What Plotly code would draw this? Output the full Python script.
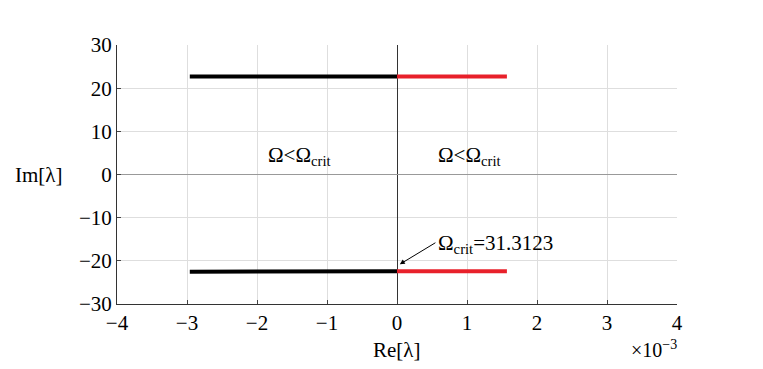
import plotly.graph_objects as go

# Data (Re in units of 1e-3)
upper_black_x = [-2.96, 0.0]
upper_black_y = [22.7, 22.7]
upper_red_x = [0.0, 1.57]
upper_red_y = [22.7, 22.7]
lower_black_x = [-2.96, 0.0]
lower_black_y = [-22.5, -22.4]
lower_red_x = [0.0, 1.57]
lower_red_y = [-22.4, -22.4]

x_ticks = [-4, -3, -2, -1, 0, 1, 2, 3, 4]
y_ticks = [-30, -20, -10, 0, 10, 20, 30]

FONT = "Liberation Serif"
BLACK = "#000000"
RED = "#e8202a"
FS = 21

fig = go.Figure()
for xs, ys, c in [(upper_black_x, upper_black_y, BLACK), (upper_red_x, upper_red_y, RED),
                  (lower_black_x, lower_black_y, BLACK), (lower_red_x, lower_red_y, RED)]:
    fig.add_trace(go.Scatter(x=xs, y=ys, mode="lines", line=dict(color=c, width=4),
                             showlegend=False, hoverinfo="skip"))

fig.update_layout(
    width=755, height=361,
    margin=dict(l=109, r=86, t=37, b=65),
    paper_bgcolor="white", plot_bgcolor="white",
    font=dict(family=FONT, size=FS, color="black"),
    xaxis=dict(range=[-4, 4], tickvals=x_ticks, ticks="inside", ticklen=4,
               tickfont=dict(family=FONT, size=FS),
               showline=True, linecolor="#333", linewidth=1,
               showgrid=True, gridcolor="#dedede", gridwidth=1,
               zeroline=True, zerolinecolor="#333", zerolinewidth=1),
    yaxis=dict(range=[-30, 30], tickvals=y_ticks, ticks="inside", ticklen=4,
               tickfont=dict(family=FONT, size=FS),
               showline=True, linecolor="#333", linewidth=1,
               showgrid=True, gridcolor="#dedede", gridwidth=1,
               zeroline=True, zerolinecolor="#999", zerolinewidth=1),
)

fig.add_annotation(x=-1.39, y=4.2, text="Ω<Ω<sub>crit</sub>", showarrow=False,
                   font=dict(family=FONT, size=FS))
fig.add_annotation(x=1.04, y=4.2, text="Ω<Ω<sub>crit</sub>", showarrow=False,
                   font=dict(family=FONT, size=FS))
fig.add_annotation(x=0.04, y=-20.8, ax=0.57, ay=-15.6, axref="x", ayref="y",
                   text="", showarrow=True, arrowhead=2, arrowsize=1, arrowwidth=1,
                   arrowcolor="black")
fig.add_annotation(x=0.55, y=-16.2, text="Ω<sub>crit</sub>=31.3123", showarrow=False,
                   xanchor="left", font=dict(family=FONT, size=FS))

fig.add_annotation(xref="paper", yref="paper", x=-0.139, y=0.5, text="Im[λ]",
                   showarrow=False, xanchor="center", font=dict(family=FONT, size=FS))
fig.add_annotation(xref="paper", yref="paper", x=0.5, y=-0.125, yanchor="top", text="Re[λ]",
                   showarrow=False, font=dict(family=FONT, size=FS))
fig.add_annotation(xref="paper", yref="paper", x=1.003, y=-0.12, yanchor="top",
                   xanchor="right", text="×10<sup>−3</sup>",
                   showarrow=False, font=dict(family=FONT, size=20))

fig.write_html("out.html")
